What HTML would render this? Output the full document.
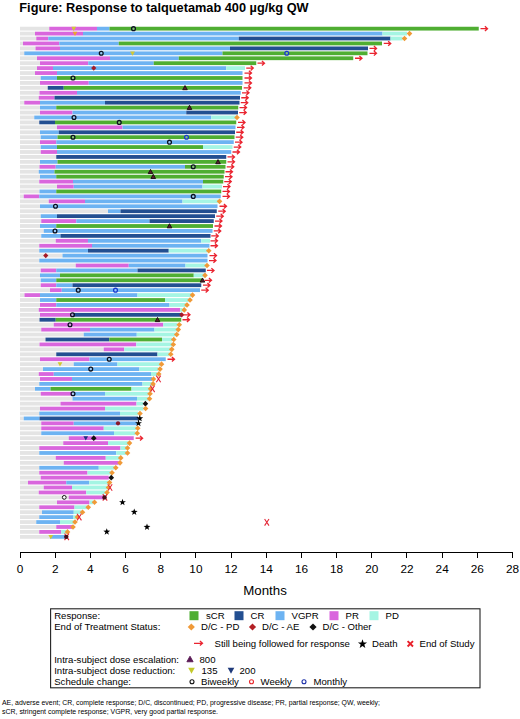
<!DOCTYPE html>
<html><head><meta charset="utf-8"><title>Figure</title>
<style>
html,body{margin:0;padding:0;background:#fff;}
body{width:520px;height:719px;overflow:hidden;font-family:"Liberation Sans",sans-serif;}
svg{display:block}
text{font-family:"Liberation Sans",sans-serif;fill:#000}
</style></head><body>
<svg width="520" height="719" viewBox="0 0 520 719">
<rect width="520" height="719" fill="#fff"/>
<text x="19.3" y="12.2" font-size="12.75" font-weight="bold">Figure: Response to talquetamab 400 µg/kg QW</text>

<g id="bars">
<rect x="20" y="26.75" width="29.25" height="3.8" fill="#e4e4e4"/>
<rect x="49.25" y="26.75" width="47.75" height="3.8" fill="#d966dd"/>
<rect x="97" y="26.75" width="12.5" height="3.8" fill="#6db3f2"/>
<rect x="109.5" y="26.75" width="369.25" height="3.8" fill="#4fae32"/>
<rect x="20" y="31.684" width="15" height="3.8" fill="#e4e4e4"/>
<rect x="35" y="31.684" width="48" height="3.8" fill="#d966dd"/>
<rect x="83" y="31.684" width="299.5" height="3.8" fill="#6db3f2"/>
<rect x="382.5" y="31.684" width="24.5" height="3.8" fill="#a5f5e3"/>
<rect x="20" y="36.618" width="16.25" height="3.8" fill="#e4e4e4"/>
<rect x="36.25" y="36.618" width="12" height="3.8" fill="#d966dd"/>
<rect x="48.25" y="36.618" width="190.5" height="3.8" fill="#6db3f2"/>
<rect x="238.75" y="36.618" width="151.75" height="3.8" fill="#234f91"/>
<rect x="390.5" y="36.618" width="12" height="3.8" fill="#a5f5e3"/>
<rect x="20" y="41.552" width="3" height="3.8" fill="#e4e4e4"/>
<rect x="23" y="41.552" width="36.25" height="3.8" fill="#d966dd"/>
<rect x="59.25" y="41.552" width="59.5" height="3.8" fill="#6db3f2"/>
<rect x="118.75" y="41.552" width="263.25" height="3.8" fill="#4fae32"/>
<rect x="20" y="46.486" width="15.5" height="3.8" fill="#e4e4e4"/>
<rect x="35.5" y="46.486" width="24.5" height="3.8" fill="#d966dd"/>
<rect x="60" y="46.486" width="170" height="3.8" fill="#6db3f2"/>
<rect x="230" y="46.486" width="138" height="3.8" fill="#234f91"/>
<rect x="20" y="51.42" width="4.25" height="3.8" fill="#e4e4e4"/>
<rect x="24.25" y="51.42" width="198.25" height="3.8" fill="#6db3f2"/>
<rect x="222.5" y="51.42" width="145" height="3.8" fill="#4fae32"/>
<rect x="20" y="56.354" width="17" height="3.8" fill="#e4e4e4"/>
<rect x="37" y="56.354" width="73" height="3.8" fill="#d966dd"/>
<rect x="110" y="56.354" width="68.75" height="3.8" fill="#6db3f2"/>
<rect x="178.75" y="56.354" width="174.5" height="3.8" fill="#4fae32"/>
<rect x="20" y="61.288" width="20" height="3.8" fill="#e4e4e4"/>
<rect x="40" y="61.288" width="48.25" height="3.8" fill="#d966dd"/>
<rect x="88.25" y="61.288" width="65.5" height="3.8" fill="#6db3f2"/>
<rect x="153.75" y="61.288" width="102.5" height="3.8" fill="#4fae32"/>
<rect x="20" y="66.222" width="17" height="3.8" fill="#e4e4e4"/>
<rect x="37" y="66.222" width="16" height="3.8" fill="#d966dd"/>
<rect x="53" y="66.222" width="173.25" height="3.8" fill="#6db3f2"/>
<rect x="226.25" y="66.222" width="18.75" height="3.8" fill="#a5f5e3"/>
<rect x="20" y="71.156" width="15" height="3.8" fill="#e4e4e4"/>
<rect x="35" y="71.156" width="22" height="3.8" fill="#d966dd"/>
<rect x="57" y="71.156" width="185.5" height="3.8" fill="#6db3f2"/>
<rect x="20" y="76.09" width="20.75" height="3.8" fill="#e4e4e4"/>
<rect x="40.75" y="76.09" width="16.25" height="3.8" fill="#6db3f2"/>
<rect x="57" y="76.09" width="185.5" height="3.8" fill="#4fae32"/>
<rect x="20" y="81.024" width="20" height="3.8" fill="#e4e4e4"/>
<rect x="40" y="81.024" width="48.75" height="3.8" fill="#d966dd"/>
<rect x="88.75" y="81.024" width="153.75" height="3.8" fill="#6db3f2"/>
<rect x="20" y="85.958" width="27.75" height="3.8" fill="#e4e4e4"/>
<rect x="47.75" y="85.958" width="16" height="3.8" fill="#234f91"/>
<rect x="63.75" y="85.958" width="178.25" height="3.8" fill="#4fae32"/>
<rect x="20" y="90.892" width="19.5" height="3.8" fill="#e4e4e4"/>
<rect x="39.5" y="90.892" width="37.5" height="3.8" fill="#d966dd"/>
<rect x="77" y="90.892" width="163.75" height="3.8" fill="#6db3f2"/>
<rect x="20" y="95.826" width="18.75" height="3.8" fill="#e4e4e4"/>
<rect x="38.75" y="95.826" width="15.75" height="3.8" fill="#d966dd"/>
<rect x="54.5" y="95.826" width="185.5" height="3.8" fill="#234f91"/>
<rect x="20" y="100.76" width="4.25" height="3.8" fill="#e4e4e4"/>
<rect x="24.25" y="100.76" width="15.75" height="3.8" fill="#d966dd"/>
<rect x="40" y="100.76" width="65" height="3.8" fill="#6db3f2"/>
<rect x="105" y="100.76" width="134.5" height="3.8" fill="#234f91"/>
<rect x="20" y="105.694" width="20" height="3.8" fill="#e4e4e4"/>
<rect x="40" y="105.694" width="16.25" height="3.8" fill="#6db3f2"/>
<rect x="56.25" y="105.694" width="182" height="3.8" fill="#4fae32"/>
<rect x="20" y="110.628" width="20" height="3.8" fill="#e4e4e4"/>
<rect x="40" y="110.628" width="32.5" height="3.8" fill="#d966dd"/>
<rect x="72.5" y="110.628" width="113.75" height="3.8" fill="#6db3f2"/>
<rect x="186.25" y="110.628" width="51.75" height="3.8" fill="#234f91"/>
<rect x="20" y="115.562" width="14.25" height="3.8" fill="#e4e4e4"/>
<rect x="34.25" y="115.562" width="177" height="3.8" fill="#6db3f2"/>
<rect x="211.25" y="115.562" width="25" height="3.8" fill="#a5f5e3"/>
<rect x="20" y="120.496" width="19.25" height="3.8" fill="#e4e4e4"/>
<rect x="39.25" y="120.496" width="15.75" height="3.8" fill="#234f91"/>
<rect x="55" y="120.496" width="181.25" height="3.8" fill="#4fae32"/>
<rect x="20" y="125.43" width="37" height="3.8" fill="#e4e4e4"/>
<rect x="57" y="125.43" width="65.5" height="3.8" fill="#d966dd"/>
<rect x="122.5" y="125.43" width="113" height="3.8" fill="#6db3f2"/>
<rect x="20" y="130.364" width="20" height="3.8" fill="#e4e4e4"/>
<rect x="40" y="130.364" width="18.75" height="3.8" fill="#6db3f2"/>
<rect x="58.75" y="130.364" width="176.25" height="3.8" fill="#234f91"/>
<rect x="20" y="135.298" width="20.75" height="3.8" fill="#e4e4e4"/>
<rect x="40.75" y="135.298" width="16.75" height="3.8" fill="#6db3f2"/>
<rect x="57.5" y="135.298" width="177" height="3.8" fill="#4fae32"/>
<rect x="20" y="140.232" width="20" height="3.8" fill="#e4e4e4"/>
<rect x="40" y="140.232" width="16.25" height="3.8" fill="#d966dd"/>
<rect x="56.25" y="140.232" width="177.5" height="3.8" fill="#6db3f2"/>
<rect x="20" y="145.166" width="20.75" height="3.8" fill="#e4e4e4"/>
<rect x="40.75" y="145.166" width="16.25" height="3.8" fill="#6db3f2"/>
<rect x="57" y="145.166" width="146" height="3.8" fill="#4fae32"/>
<rect x="203" y="145.166" width="29.5" height="3.8" fill="#a5f5e3"/>
<rect x="20" y="150.1" width="20.75" height="3.8" fill="#e4e4e4"/>
<rect x="40.75" y="150.1" width="16.25" height="3.8" fill="#d966dd"/>
<rect x="57" y="150.1" width="174.25" height="3.8" fill="#6db3f2"/>
<rect x="20" y="155.034" width="36.25" height="3.8" fill="#e4e4e4"/>
<rect x="56.25" y="155.034" width="170" height="3.8" fill="#234f91"/>
<rect x="20" y="159.968" width="20" height="3.8" fill="#e4e4e4"/>
<rect x="40" y="159.968" width="17.5" height="3.8" fill="#6db3f2"/>
<rect x="57.5" y="159.968" width="168.75" height="3.8" fill="#4fae32"/>
<rect x="20" y="164.902" width="19.5" height="3.8" fill="#e4e4e4"/>
<rect x="39.5" y="164.902" width="16.25" height="3.8" fill="#d966dd"/>
<rect x="55.75" y="164.902" width="129.25" height="3.8" fill="#6db3f2"/>
<rect x="185" y="164.902" width="40.5" height="3.8" fill="#4fae32"/>
<rect x="20" y="169.836" width="18.75" height="3.8" fill="#e4e4e4"/>
<rect x="38.75" y="169.836" width="15.75" height="3.8" fill="#6db3f2"/>
<rect x="54.5" y="169.836" width="170" height="3.8" fill="#4fae32"/>
<rect x="20" y="174.77" width="20" height="3.8" fill="#e4e4e4"/>
<rect x="40" y="174.77" width="16.25" height="3.8" fill="#6db3f2"/>
<rect x="56.25" y="174.77" width="167.5" height="3.8" fill="#4fae32"/>
<rect x="20" y="179.704" width="19.25" height="3.8" fill="#e4e4e4"/>
<rect x="39.25" y="179.704" width="33.75" height="3.8" fill="#d966dd"/>
<rect x="73" y="179.704" width="130" height="3.8" fill="#6db3f2"/>
<rect x="203" y="179.704" width="20.25" height="3.8" fill="#4fae32"/>
<rect x="20" y="184.638" width="37" height="3.8" fill="#e4e4e4"/>
<rect x="57" y="184.638" width="16.75" height="3.8" fill="#d966dd"/>
<rect x="73.75" y="184.638" width="128.75" height="3.8" fill="#6db3f2"/>
<rect x="202.5" y="184.638" width="19.5" height="3.8" fill="#a5f5e3"/>
<rect x="20" y="189.572" width="19.5" height="3.8" fill="#e4e4e4"/>
<rect x="39.5" y="189.572" width="16.75" height="3.8" fill="#6db3f2"/>
<rect x="56.25" y="189.572" width="165" height="3.8" fill="#4fae32"/>
<rect x="20" y="194.506" width="3.75" height="3.8" fill="#e4e4e4"/>
<rect x="23.75" y="194.506" width="15.5" height="3.8" fill="#d966dd"/>
<rect x="39.25" y="194.506" width="181.5" height="3.8" fill="#6db3f2"/>
<rect x="20" y="199.44" width="28.75" height="3.8" fill="#e4e4e4"/>
<rect x="48.75" y="199.44" width="36.25" height="3.8" fill="#d966dd"/>
<rect x="85" y="199.44" width="97.5" height="3.8" fill="#6db3f2"/>
<rect x="182.5" y="199.44" width="35.75" height="3.8" fill="#a5f5e3"/>
<rect x="20" y="204.374" width="20" height="3.8" fill="#e4e4e4"/>
<rect x="40" y="204.374" width="177.5" height="3.8" fill="#6db3f2"/>
<rect x="20" y="209.308" width="88" height="3.8" fill="#e4e4e4"/>
<rect x="108" y="209.308" width="12.5" height="3.8" fill="#6db3f2"/>
<rect x="120.5" y="209.308" width="96.25" height="3.8" fill="#234f91"/>
<rect x="20" y="214.242" width="20.75" height="3.8" fill="#e4e4e4"/>
<rect x="40.75" y="214.242" width="16.25" height="3.8" fill="#6db3f2"/>
<rect x="57" y="214.242" width="158" height="3.8" fill="#234f91"/>
<rect x="20" y="219.176" width="21.25" height="3.8" fill="#e4e4e4"/>
<rect x="41.25" y="219.176" width="35" height="3.8" fill="#d966dd"/>
<rect x="76.25" y="219.176" width="73.25" height="3.8" fill="#6db3f2"/>
<rect x="149.5" y="219.176" width="64.25" height="3.8" fill="#234f91"/>
<rect x="20" y="224.11" width="20" height="3.8" fill="#e4e4e4"/>
<rect x="40" y="224.11" width="16.25" height="3.8" fill="#6db3f2"/>
<rect x="56.25" y="224.11" width="156.75" height="3.8" fill="#4fae32"/>
<rect x="20" y="229.044" width="23.75" height="3.8" fill="#e4e4e4"/>
<rect x="43.75" y="229.044" width="168.75" height="3.8" fill="#6db3f2"/>
<rect x="20" y="233.978" width="21.25" height="3.8" fill="#e4e4e4"/>
<rect x="41.25" y="233.978" width="19.25" height="3.8" fill="#6db3f2"/>
<rect x="60.5" y="233.978" width="150" height="3.8" fill="#234f91"/>
<rect x="20" y="238.912" width="35.75" height="3.8" fill="#e4e4e4"/>
<rect x="55.75" y="238.912" width="32.25" height="3.8" fill="#d966dd"/>
<rect x="88" y="238.912" width="113.25" height="3.8" fill="#6db3f2"/>
<rect x="201.25" y="238.912" width="8.75" height="3.8" fill="#a5f5e3"/>
<rect x="20" y="243.846" width="19.25" height="3.8" fill="#e4e4e4"/>
<rect x="39.25" y="243.846" width="52.75" height="3.8" fill="#d966dd"/>
<rect x="92" y="243.846" width="117.5" height="3.8" fill="#6db3f2"/>
<rect x="20" y="248.78" width="19.25" height="3.8" fill="#e4e4e4"/>
<rect x="39.25" y="248.78" width="48.75" height="3.8" fill="#6db3f2"/>
<rect x="88" y="248.78" width="80.75" height="3.8" fill="#234f91"/>
<rect x="168.75" y="248.78" width="38.75" height="3.8" fill="#a5f5e3"/>
<rect x="20" y="253.714" width="42.5" height="3.8" fill="#e4e4e4"/>
<rect x="62.5" y="253.714" width="145" height="3.8" fill="#6db3f2"/>
<rect x="20" y="258.648" width="19.25" height="3.8" fill="#e4e4e4"/>
<rect x="39.25" y="258.648" width="168.25" height="3.8" fill="#6db3f2"/>
<rect x="20" y="263.582" width="55.75" height="3.8" fill="#e4e4e4"/>
<rect x="75.75" y="263.582" width="53" height="3.8" fill="#d966dd"/>
<rect x="128.75" y="263.582" width="56.75" height="3.8" fill="#6db3f2"/>
<rect x="185.5" y="263.582" width="20.25" height="3.8" fill="#a5f5e3"/>
<rect x="20" y="268.516" width="20.75" height="3.8" fill="#e4e4e4"/>
<rect x="40.75" y="268.516" width="15.5" height="3.8" fill="#d966dd"/>
<rect x="56.25" y="268.516" width="81.25" height="3.8" fill="#6db3f2"/>
<rect x="137.5" y="268.516" width="68.25" height="3.8" fill="#234f91"/>
<rect x="20" y="273.45" width="20" height="3.8" fill="#e4e4e4"/>
<rect x="40" y="273.45" width="20" height="3.8" fill="#6db3f2"/>
<rect x="60" y="273.45" width="133.75" height="3.8" fill="#4fae32"/>
<rect x="193.75" y="273.45" width="10" height="3.8" fill="#a5f5e3"/>
<rect x="20" y="278.384" width="20.75" height="3.8" fill="#e4e4e4"/>
<rect x="40.75" y="278.384" width="15.5" height="3.8" fill="#6db3f2"/>
<rect x="56.25" y="278.384" width="145.75" height="3.8" fill="#4fae32"/>
<rect x="20" y="283.318" width="20.75" height="3.8" fill="#e4e4e4"/>
<rect x="40.75" y="283.318" width="15.5" height="3.8" fill="#d966dd"/>
<rect x="56.25" y="283.318" width="16.25" height="3.8" fill="#6db3f2"/>
<rect x="72.5" y="283.318" width="128.75" height="3.8" fill="#234f91"/>
<rect x="20" y="288.252" width="30" height="3.8" fill="#e4e4e4"/>
<rect x="50" y="288.252" width="11.75" height="3.8" fill="#d966dd"/>
<rect x="61.75" y="288.252" width="138.25" height="3.8" fill="#6db3f2"/>
<rect x="20" y="293.186" width="4.5" height="3.8" fill="#e4e4e4"/>
<rect x="24.5" y="293.186" width="15.5" height="3.8" fill="#d966dd"/>
<rect x="40" y="293.186" width="97.5" height="3.8" fill="#6db3f2"/>
<rect x="137.5" y="293.186" width="53.75" height="3.8" fill="#a5f5e3"/>
<rect x="20" y="298.12" width="20" height="3.8" fill="#e4e4e4"/>
<rect x="40" y="298.12" width="16.25" height="3.8" fill="#6db3f2"/>
<rect x="56.25" y="298.12" width="108.75" height="3.8" fill="#4fae32"/>
<rect x="165" y="298.12" width="23.75" height="3.8" fill="#a5f5e3"/>
<rect x="20" y="303.054" width="20" height="3.8" fill="#e4e4e4"/>
<rect x="40" y="303.054" width="16.25" height="3.8" fill="#d966dd"/>
<rect x="56.25" y="303.054" width="113.25" height="3.8" fill="#6db3f2"/>
<rect x="169.5" y="303.054" width="16.75" height="3.8" fill="#a5f5e3"/>
<rect x="20" y="307.988" width="18.75" height="3.8" fill="#e4e4e4"/>
<rect x="38.75" y="307.988" width="141.25" height="3.8" fill="#d966dd"/>
<rect x="180" y="307.988" width="2.5" height="3.8" fill="#a5f5e3"/>
<rect x="20" y="312.922" width="20" height="3.8" fill="#e4e4e4"/>
<rect x="40" y="312.922" width="32.5" height="3.8" fill="#d966dd"/>
<rect x="72.5" y="312.922" width="108.75" height="3.8" fill="#234f91"/>
<rect x="20" y="317.856" width="19.5" height="3.8" fill="#e4e4e4"/>
<rect x="39.5" y="317.856" width="16.25" height="3.8" fill="#234f91"/>
<rect x="55.75" y="317.856" width="125.5" height="3.8" fill="#4fae32"/>
<rect x="20" y="322.79" width="33.75" height="3.8" fill="#e4e4e4"/>
<rect x="53.75" y="322.79" width="109.5" height="3.8" fill="#d966dd"/>
<rect x="163.25" y="322.79" width="14.25" height="3.8" fill="#a5f5e3"/>
<rect x="20" y="327.724" width="21.25" height="3.8" fill="#e4e4e4"/>
<rect x="41.25" y="327.724" width="48.75" height="3.8" fill="#d966dd"/>
<rect x="90" y="327.724" width="64.5" height="3.8" fill="#6db3f2"/>
<rect x="154.5" y="327.724" width="22.5" height="3.8" fill="#a5f5e3"/>
<rect x="20" y="332.658" width="63.75" height="3.8" fill="#e4e4e4"/>
<rect x="83.75" y="332.658" width="53" height="3.8" fill="#6db3f2"/>
<rect x="136.75" y="332.658" width="38.75" height="3.8" fill="#a5f5e3"/>
<rect x="20" y="337.592" width="25.5" height="3.8" fill="#e4e4e4"/>
<rect x="45.5" y="337.592" width="63.75" height="3.8" fill="#234f91"/>
<rect x="109.25" y="337.592" width="52.75" height="3.8" fill="#4fae32"/>
<rect x="162" y="337.592" width="10" height="3.8" fill="#a5f5e3"/>
<rect x="20" y="342.526" width="19.5" height="3.8" fill="#e4e4e4"/>
<rect x="39.5" y="342.526" width="96.75" height="3.8" fill="#d966dd"/>
<rect x="136.25" y="342.526" width="35.75" height="3.8" fill="#a5f5e3"/>
<rect x="20" y="347.46" width="83.75" height="3.8" fill="#e4e4e4"/>
<rect x="103.75" y="347.46" width="20.5" height="3.8" fill="#d966dd"/>
<rect x="124.25" y="347.46" width="45.75" height="3.8" fill="#a5f5e3"/>
<rect x="20" y="352.394" width="36.25" height="3.8" fill="#e4e4e4"/>
<rect x="56.25" y="352.394" width="101.25" height="3.8" fill="#234f91"/>
<rect x="157.5" y="352.394" width="11.75" height="3.8" fill="#a5f5e3"/>
<rect x="20" y="357.328" width="20" height="3.8" fill="#e4e4e4"/>
<rect x="40" y="357.328" width="49.5" height="3.8" fill="#d966dd"/>
<rect x="89.5" y="357.328" width="76.25" height="3.8" fill="#6db3f2"/>
<rect x="20" y="362.262" width="53.75" height="3.8" fill="#e4e4e4"/>
<rect x="73.75" y="362.262" width="43.75" height="3.8" fill="#6db3f2"/>
<rect x="117.5" y="362.262" width="42.5" height="3.8" fill="#a5f5e3"/>
<rect x="20" y="367.196" width="23" height="3.8" fill="#e4e4e4"/>
<rect x="43" y="367.196" width="96.4" height="3.8" fill="#6db3f2"/>
<rect x="139.4" y="367.196" width="18.6" height="3.8" fill="#a5f5e3"/>
<rect x="20" y="372.13" width="18.75" height="3.8" fill="#e4e4e4"/>
<rect x="38.75" y="372.13" width="15" height="3.8" fill="#d966dd"/>
<rect x="53.75" y="372.13" width="97.25" height="3.8" fill="#6db3f2"/>
<rect x="151" y="372.13" width="6" height="3.8" fill="#a5f5e3"/>
<rect x="20" y="377.064" width="20" height="3.8" fill="#e4e4e4"/>
<rect x="40" y="377.064" width="32" height="3.8" fill="#d966dd"/>
<rect x="72" y="377.064" width="80" height="3.8" fill="#6db3f2"/>
<rect x="20" y="381.998" width="19.25" height="3.8" fill="#e4e4e4"/>
<rect x="39.25" y="381.998" width="103.25" height="3.8" fill="#6db3f2"/>
<rect x="142.5" y="381.998" width="9.5" height="3.8" fill="#a5f5e3"/>
<rect x="20" y="386.932" width="15" height="3.8" fill="#e4e4e4"/>
<rect x="35" y="386.932" width="15.5" height="3.8" fill="#6db3f2"/>
<rect x="50.5" y="386.932" width="81" height="3.8" fill="#4fae32"/>
<rect x="131.5" y="386.932" width="18.5" height="3.8" fill="#a5f5e3"/>
<rect x="20" y="391.866" width="20.75" height="3.8" fill="#e4e4e4"/>
<rect x="40.75" y="391.866" width="31.75" height="3.8" fill="#d966dd"/>
<rect x="72.5" y="391.866" width="32.5" height="3.8" fill="#6db3f2"/>
<rect x="105" y="391.866" width="43.5" height="3.8" fill="#a5f5e3"/>
<rect x="20" y="396.8" width="52.5" height="3.8" fill="#e4e4e4"/>
<rect x="72.5" y="396.8" width="64.5" height="3.8" fill="#6db3f2"/>
<rect x="137" y="396.8" width="11" height="3.8" fill="#a5f5e3"/>
<rect x="20" y="401.734" width="40.5" height="3.8" fill="#e4e4e4"/>
<rect x="60.5" y="401.734" width="76" height="3.8" fill="#d966dd"/>
<rect x="136.5" y="401.734" width="6.5" height="3.8" fill="#a5f5e3"/>
<rect x="20" y="406.668" width="20" height="3.8" fill="#e4e4e4"/>
<rect x="40" y="406.668" width="65" height="3.8" fill="#d966dd"/>
<rect x="105" y="406.668" width="38.5" height="3.8" fill="#a5f5e3"/>
<rect x="20" y="411.602" width="19.25" height="3.8" fill="#e4e4e4"/>
<rect x="39.25" y="411.602" width="80.75" height="3.8" fill="#6db3f2"/>
<rect x="120" y="411.602" width="18" height="3.8" fill="#a5f5e3"/>
<rect x="20" y="416.536" width="3.75" height="3.8" fill="#e4e4e4"/>
<rect x="23.75" y="416.536" width="15.75" height="3.8" fill="#6db3f2"/>
<rect x="39.5" y="416.536" width="98.5" height="3.8" fill="#234f91"/>
<rect x="20" y="421.47" width="21.25" height="3.8" fill="#e4e4e4"/>
<rect x="41.25" y="421.47" width="32.5" height="3.8" fill="#d966dd"/>
<rect x="73.75" y="421.47" width="63.25" height="3.8" fill="#6db3f2"/>
<rect x="20" y="426.404" width="21.25" height="3.8" fill="#e4e4e4"/>
<rect x="41.25" y="426.404" width="62.5" height="3.8" fill="#d966dd"/>
<rect x="103.75" y="426.404" width="32.25" height="3.8" fill="#a5f5e3"/>
<rect x="20" y="431.338" width="21.25" height="3.8" fill="#e4e4e4"/>
<rect x="41.25" y="431.338" width="72.75" height="3.8" fill="#6db3f2"/>
<rect x="114" y="431.338" width="21.5" height="3.8" fill="#a5f5e3"/>
<rect x="20" y="436.272" width="48.75" height="3.8" fill="#e4e4e4"/>
<rect x="68.75" y="436.272" width="65" height="3.8" fill="#d966dd"/>
<rect x="20" y="441.206" width="43.25" height="3.8" fill="#e4e4e4"/>
<rect x="63.25" y="441.206" width="44.75" height="3.8" fill="#d966dd"/>
<rect x="108" y="441.206" width="20.25" height="3.8" fill="#a5f5e3"/>
<rect x="20" y="446.14" width="19.25" height="3.8" fill="#e4e4e4"/>
<rect x="39.25" y="446.14" width="81.25" height="3.8" fill="#d966dd"/>
<rect x="120.5" y="446.14" width="5.75" height="3.8" fill="#a5f5e3"/>
<rect x="20" y="451.074" width="19.25" height="3.8" fill="#e4e4e4"/>
<rect x="39.25" y="451.074" width="77" height="3.8" fill="#6db3f2"/>
<rect x="116.25" y="451.074" width="10" height="3.8" fill="#a5f5e3"/>
<rect x="20" y="456.008" width="35.75" height="3.8" fill="#e4e4e4"/>
<rect x="55.75" y="456.008" width="50" height="3.8" fill="#d966dd"/>
<rect x="105.75" y="456.008" width="13.75" height="3.8" fill="#a5f5e3"/>
<rect x="20" y="460.942" width="43.75" height="3.8" fill="#e4e4e4"/>
<rect x="63.75" y="460.942" width="55" height="3.8" fill="#d966dd"/>
<rect x="20" y="465.876" width="19.25" height="3.8" fill="#e4e4e4"/>
<rect x="39.25" y="465.876" width="59.5" height="3.8" fill="#6db3f2"/>
<rect x="98.75" y="465.876" width="15.5" height="3.8" fill="#a5f5e3"/>
<rect x="20" y="470.81" width="19.25" height="3.8" fill="#e4e4e4"/>
<rect x="39.25" y="470.81" width="48.25" height="3.8" fill="#d966dd"/>
<rect x="87.5" y="470.81" width="23.25" height="3.8" fill="#a5f5e3"/>
<rect x="20" y="475.744" width="20.75" height="3.8" fill="#e4e4e4"/>
<rect x="40.75" y="475.744" width="68" height="3.8" fill="#d966dd"/>
<rect x="20" y="480.678" width="8" height="3.8" fill="#e4e4e4"/>
<rect x="28" y="480.678" width="38.25" height="3.8" fill="#d966dd"/>
<rect x="66.25" y="480.678" width="23" height="3.8" fill="#6db3f2"/>
<rect x="89.25" y="480.678" width="18.75" height="3.8" fill="#a5f5e3"/>
<rect x="20" y="485.612" width="23.75" height="3.8" fill="#e4e4e4"/>
<rect x="43.75" y="485.612" width="28.25" height="3.8" fill="#d966dd"/>
<rect x="72" y="485.612" width="35.5" height="3.8" fill="#a5f5e3"/>
<rect x="20" y="490.546" width="18.75" height="3.8" fill="#e4e4e4"/>
<rect x="38.75" y="490.546" width="47.5" height="3.8" fill="#d966dd"/>
<rect x="86.25" y="490.546" width="19.25" height="3.8" fill="#a5f5e3"/>
<rect x="20" y="495.48" width="48.75" height="3.8" fill="#e4e4e4"/>
<rect x="68.75" y="495.48" width="34.25" height="3.8" fill="#d966dd"/>
<rect x="20" y="500.414" width="37" height="3.8" fill="#e4e4e4"/>
<rect x="57" y="500.414" width="32.5" height="3.8" fill="#d966dd"/>
<rect x="89.5" y="500.414" width="3.75" height="3.8" fill="#a5f5e3"/>
<rect x="20" y="505.348" width="19.25" height="3.8" fill="#e4e4e4"/>
<rect x="39.25" y="505.348" width="35.25" height="3.8" fill="#d966dd"/>
<rect x="74.5" y="505.348" width="12.5" height="3.8" fill="#a5f5e3"/>
<rect x="20" y="510.282" width="22" height="3.8" fill="#e4e4e4"/>
<rect x="42" y="510.282" width="31.75" height="3.8" fill="#6db3f2"/>
<rect x="73.75" y="510.282" width="7.5" height="3.8" fill="#a5f5e3"/>
<rect x="20" y="515.216" width="19.25" height="3.8" fill="#e4e4e4"/>
<rect x="39.25" y="515.216" width="33.75" height="3.8" fill="#6db3f2"/>
<rect x="73" y="515.216" width="4.5" height="3.8" fill="#a5f5e3"/>
<rect x="20" y="520.15" width="16.25" height="3.8" fill="#e4e4e4"/>
<rect x="36.25" y="520.15" width="23.75" height="3.8" fill="#6db3f2"/>
<rect x="60" y="520.15" width="13.75" height="3.8" fill="#a5f5e3"/>
<rect x="20" y="525.084" width="36.25" height="3.8" fill="#e4e4e4"/>
<rect x="56.25" y="525.084" width="15.75" height="3.8" fill="#d966dd"/>
<rect x="20" y="530.018" width="19.25" height="3.8" fill="#e4e4e4"/>
<rect x="39.25" y="530.018" width="22" height="3.8" fill="#d966dd"/>
<rect x="61.25" y="530.018" width="5" height="3.8" fill="#a5f5e3"/>
<rect x="20" y="534.952" width="30" height="3.8" fill="#e4e4e4"/>
<rect x="50" y="534.952" width="15" height="3.8" fill="#6db3f2"/>
</g>
<g id="marks">
<path d="M73.75 31.05L76.15 26.73L71.35 26.73Z" fill="#d2c834"/>
<circle cx="133.5" cy="28.65" r="1.9" fill="#fff" fill-opacity="0.3" stroke="#0a1020" stroke-width="1.3"/>
<path d="M480.5 28.65H487.5M484.9 26.35L487.5 28.65L484.9 30.95" stroke="#ea2430" stroke-width="1.3" fill="none"/>
<path d="M75 35.984L77.4 31.664L72.6 31.664Z" fill="#eaa530"/>
<path d="M409.5 30.784L412.3 33.584L409.5 36.384L406.7 33.584Z" fill="#f09a38"/>
<path d="M404.5 35.718L407.3 38.518L404.5 41.318L401.7 38.518Z" fill="#f09a38"/>
<path d="M383.75 43.452H390.75M388.15 41.152L390.75 43.452L388.15 45.752" stroke="#ea2430" stroke-width="1.3" fill="none"/>
<path d="M369.5 48.386H376.5M373.9 46.086L376.5 48.386L373.9 50.686" stroke="#ea2430" stroke-width="1.3" fill="none"/>
<circle cx="101.25" cy="53.32" r="1.9" fill="#fff" fill-opacity="0.3" stroke="#0a1020" stroke-width="1.3"/>
<path d="M132.5 55.72L134.9 51.4L130.1 51.4Z" fill="#d2c834"/>
<circle cx="286.75" cy="53.32" r="1.9" fill="#fff" fill-opacity="0.3" stroke="#1838d0" stroke-width="1.3"/>
<path d="M369.5 53.32H376.5M373.9 51.02L376.5 53.32L373.9 55.62" stroke="#ea2430" stroke-width="1.3" fill="none"/>
<path d="M355 58.254H362M359.4 55.954L362 58.254L359.4 60.554" stroke="#ea2430" stroke-width="1.3" fill="none"/>
<path d="M257.5 63.188H264.5M261.9 60.888L264.5 63.188L261.9 65.488" stroke="#ea2430" stroke-width="1.3" fill="none"/>
<path d="M93.75 65.522L96.35 68.122L93.75 70.722L91.15 68.122Z" fill="#a51a28"/>
<path d="M246.25 68.122H253.25M250.65 65.822L253.25 68.122L250.65 70.422" stroke="#ea2430" stroke-width="1.3" fill="none"/>
<path d="M244.5 73.056H251.5M248.9 70.756L251.5 73.056L248.9 75.356" stroke="#ea2430" stroke-width="1.3" fill="none"/>
<circle cx="73" cy="77.99" r="1.9" fill="#fff" fill-opacity="0.3" stroke="#0a1020" stroke-width="1.3"/>
<path d="M244.5 77.99H251.5M248.9 75.69L251.5 77.99L248.9 80.29" stroke="#ea2430" stroke-width="1.3" fill="none"/>
<path d="M244.5 82.924H251.5M248.9 80.624L251.5 82.924L248.9 85.224" stroke="#ea2430" stroke-width="1.3" fill="none"/>
<path d="M185 85.558L187.3 89.698L182.7 89.698Z" fill="#55202a" stroke="#1a0a12" stroke-width="0.9" stroke-linejoin="round"/>
<path d="M243.75 87.858H250.75M248.15 85.558L250.75 87.858L248.15 90.158" stroke="#ea2430" stroke-width="1.3" fill="none"/>
<path d="M242 92.792H249M246.4 90.492L249 92.792L246.4 95.092" stroke="#ea2430" stroke-width="1.3" fill="none"/>
<path d="M241.25 97.726H248.25M245.65 95.426L248.25 97.726L245.65 100.026" stroke="#ea2430" stroke-width="1.3" fill="none"/>
<path d="M240.75 102.66H247.75M245.15 100.36L247.75 102.66L245.15 104.96" stroke="#ea2430" stroke-width="1.3" fill="none"/>
<path d="M189.5 105.294L191.8 109.434L187.2 109.434Z" fill="#55202a" stroke="#1a0a12" stroke-width="0.9" stroke-linejoin="round"/>
<path d="M239.5 107.594H246.5M243.9 105.294L246.5 107.594L243.9 109.894" stroke="#ea2430" stroke-width="1.3" fill="none"/>
<path d="M239.25 112.528H246.25M243.65 110.228L246.25 112.528L243.65 114.828" stroke="#ea2430" stroke-width="1.3" fill="none"/>
<circle cx="74" cy="117.462" r="1.9" fill="#fff" fill-opacity="0.3" stroke="#0a1020" stroke-width="1.3"/>
<path d="M237 114.662L239.8 117.462L237 120.262L234.2 117.462Z" fill="#f09a38"/>
<circle cx="119.25" cy="122.396" r="1.9" fill="#fff" fill-opacity="0.3" stroke="#0a1020" stroke-width="1.3"/>
<path d="M238 122.396H245M242.4 120.096L245 122.396L242.4 124.696" stroke="#ea2430" stroke-width="1.3" fill="none"/>
<path d="M237 127.33H244M241.4 125.03L244 127.33L241.4 129.63" stroke="#ea2430" stroke-width="1.3" fill="none"/>
<path d="M236.25 132.264H243.25M240.65 129.964L243.25 132.264L240.65 134.564" stroke="#ea2430" stroke-width="1.3" fill="none"/>
<circle cx="73" cy="137.198" r="1.9" fill="#fff" fill-opacity="0.3" stroke="#0a1020" stroke-width="1.3"/>
<circle cx="186.5" cy="137.198" r="1.9" fill="#fff" fill-opacity="0.3" stroke="#1838d0" stroke-width="1.3"/>
<path d="M235.75 137.198H242.75M240.15 134.898L242.75 137.198L240.15 139.498" stroke="#ea2430" stroke-width="1.3" fill="none"/>
<circle cx="169.5" cy="142.132" r="1.9" fill="#fff" fill-opacity="0.3" stroke="#0a1020" stroke-width="1.3"/>
<path d="M235 142.132H242M239.4 139.832L242 142.132L239.4 144.432" stroke="#ea2430" stroke-width="1.3" fill="none"/>
<path d="M233.75 147.066H240.75M238.15 144.766L240.75 147.066L238.15 149.366" stroke="#ea2430" stroke-width="1.3" fill="none"/>
<path d="M232.5 152H239.5M236.9 149.7L239.5 152L236.9 154.3" stroke="#ea2430" stroke-width="1.3" fill="none"/>
<path d="M227.5 156.934H234.5M231.9 154.634L234.5 156.934L231.9 159.234" stroke="#ea2430" stroke-width="1.3" fill="none"/>
<path d="M218 159.568L220.3 163.708L215.7 163.708Z" fill="#55202a" stroke="#1a0a12" stroke-width="0.9" stroke-linejoin="round"/>
<path d="M227.5 161.868H234.5M231.9 159.568L234.5 161.868L231.9 164.168" stroke="#ea2430" stroke-width="1.3" fill="none"/>
<circle cx="193.25" cy="166.802" r="1.9" fill="#fff" fill-opacity="0.3" stroke="#0a1020" stroke-width="1.3"/>
<path d="M226.75 166.802H233.75M231.15 164.502L233.75 166.802L231.15 169.102" stroke="#ea2430" stroke-width="1.3" fill="none"/>
<path d="M150.5 169.436L152.8 173.576L148.2 173.576Z" fill="#55202a" stroke="#1a0a12" stroke-width="0.9" stroke-linejoin="round"/>
<path d="M225.5 171.736H232.5M229.9 169.436L232.5 171.736L229.9 174.036" stroke="#ea2430" stroke-width="1.3" fill="none"/>
<path d="M153.25 174.37L155.55 178.51L150.95 178.51Z" fill="#55202a" stroke="#1a0a12" stroke-width="0.9" stroke-linejoin="round"/>
<path d="M225 176.67H232M229.4 174.37L232 176.67L229.4 178.97" stroke="#ea2430" stroke-width="1.3" fill="none"/>
<path d="M224.25 181.604H231.25M228.65 179.304L231.25 181.604L228.65 183.904" stroke="#ea2430" stroke-width="1.3" fill="none"/>
<path d="M223 186.538H230M227.4 184.238L230 186.538L227.4 188.838" stroke="#ea2430" stroke-width="1.3" fill="none"/>
<path d="M222.5 191.472H229.5M226.9 189.172L229.5 191.472L226.9 193.772" stroke="#ea2430" stroke-width="1.3" fill="none"/>
<circle cx="193.25" cy="196.406" r="1.9" fill="#fff" fill-opacity="0.3" stroke="#0a1020" stroke-width="1.3"/>
<path d="M222.5 196.406H229.5M226.9 194.106L229.5 196.406L226.9 198.706" stroke="#ea2430" stroke-width="1.3" fill="none"/>
<path d="M219.5 198.54L222.3 201.34L219.5 204.14L216.7 201.34Z" fill="#f09a38"/>
<circle cx="55.5" cy="206.274" r="1.9" fill="#fff" fill-opacity="0.3" stroke="#0a1020" stroke-width="1.3"/>
<path d="M219.5 206.274H226.5M223.9 203.974L226.5 206.274L223.9 208.574" stroke="#ea2430" stroke-width="1.3" fill="none"/>
<path d="M218.25 211.208H225.25M222.65 208.908L225.25 211.208L222.65 213.508" stroke="#ea2430" stroke-width="1.3" fill="none"/>
<path d="M216.25 216.142H223.25M220.65 213.842L223.25 216.142L220.65 218.442" stroke="#ea2430" stroke-width="1.3" fill="none"/>
<path d="M215 221.076H222M219.4 218.776L222 221.076L219.4 223.376" stroke="#ea2430" stroke-width="1.3" fill="none"/>
<path d="M169.5 223.71L171.8 227.85L167.2 227.85Z" fill="#55202a" stroke="#1a0a12" stroke-width="0.9" stroke-linejoin="round"/>
<path d="M214.5 226.01H221.5M218.9 223.71L221.5 226.01L218.9 228.31" stroke="#ea2430" stroke-width="1.3" fill="none"/>
<circle cx="55" cy="230.944" r="1.9" fill="#fff" fill-opacity="0.3" stroke="#0a1020" stroke-width="1.3"/>
<path d="M213.75 230.944H220.75M218.15 228.644L220.75 230.944L218.15 233.244" stroke="#ea2430" stroke-width="1.3" fill="none"/>
<path d="M211.25 235.878H218.25M215.65 233.578L218.25 235.878L215.65 238.178" stroke="#ea2430" stroke-width="1.3" fill="none"/>
<path d="M210.5 240.812H217.5M214.9 238.512L217.5 240.812L214.9 243.112" stroke="#ea2430" stroke-width="1.3" fill="none"/>
<path d="M210.5 245.746H217.5M214.9 243.446L217.5 245.746L214.9 248.046" stroke="#ea2430" stroke-width="1.3" fill="none"/>
<path d="M208.75 247.88L211.55 250.68L208.75 253.48L205.95 250.68Z" fill="#f09a38"/>
<path d="M45.75 253.014L48.35 255.614L45.75 258.214L43.15 255.614Z" fill="#a51a28"/>
<path d="M209.5 255.614H216.5M213.9 253.314L216.5 255.614L213.9 257.914" stroke="#ea2430" stroke-width="1.3" fill="none"/>
<path d="M209 260.548H216M213.4 258.248L216 260.548L213.4 262.848" stroke="#ea2430" stroke-width="1.3" fill="none"/>
<path d="M207 262.682L209.8 265.482L207 268.282L204.2 265.482Z" fill="#f09a38"/>
<path d="M207 270.416H214M211.4 268.116L214 270.416L211.4 272.716" stroke="#ea2430" stroke-width="1.3" fill="none"/>
<path d="M205 272.55L207.8 275.35L205 278.15L202.2 275.35Z" fill="#f09a38"/>
<path d="M202.5 277.984L204.8 282.124L200.2 282.124Z" fill="#55202a" stroke="#1a0a12" stroke-width="0.9" stroke-linejoin="round"/>
<path d="M204.5 280.284H211.5M208.9 277.984L211.5 280.284L208.9 282.584" stroke="#ea2430" stroke-width="1.3" fill="none"/>
<path d="M203 285.218H210M207.4 282.918L210 285.218L207.4 287.518" stroke="#ea2430" stroke-width="1.3" fill="none"/>
<circle cx="78.25" cy="290.152" r="1.9" fill="#fff" fill-opacity="0.3" stroke="#0a1020" stroke-width="1.3"/>
<circle cx="115.5" cy="290.152" r="1.9" fill="#fff" fill-opacity="0.3" stroke="#1838d0" stroke-width="1.3"/>
<path d="M201.25 290.152H208.25M205.65 287.852L208.25 290.152L205.65 292.452" stroke="#ea2430" stroke-width="1.3" fill="none"/>
<path d="M192.5 292.286L195.3 295.086L192.5 297.886L189.7 295.086Z" fill="#f09a38"/>
<path d="M190 297.22L192.8 300.02L190 302.82L187.2 300.02Z" fill="#f09a38"/>
<path d="M187 302.154L189.8 304.954L187 307.754L184.2 304.954Z" fill="#f09a38"/>
<path d="M184.25 307.088L187.05 309.888L184.25 312.688L181.45 309.888Z" fill="#f09a38"/>
<circle cx="72.5" cy="314.822" r="1.9" fill="#fff" fill-opacity="0.3" stroke="#0a1020" stroke-width="1.3"/>
<path d="M181.75 312.222L184.35 314.822L181.75 317.422L179.15 314.822Z" fill="#a51a28"/>
<path d="M183 314.822H190M187.4 312.522L190 314.822L187.4 317.122" stroke="#ea2430" stroke-width="1.3" fill="none"/>
<path d="M157.5 317.456L159.8 321.596L155.2 321.596Z" fill="#55202a" stroke="#1a0a12" stroke-width="0.9" stroke-linejoin="round"/>
<path d="M182.5 319.756H189.5M186.9 317.456L189.5 319.756L186.9 322.056" stroke="#ea2430" stroke-width="1.3" fill="none"/>
<circle cx="70" cy="324.69" r="1.9" fill="#fff" fill-opacity="0.3" stroke="#0a1020" stroke-width="1.3"/>
<path d="M179.25 321.89L182.05 324.69L179.25 327.49L176.45 324.69Z" fill="#f09a38"/>
<path d="M178.25 326.824L181.05 329.624L178.25 332.424L175.45 329.624Z" fill="#f09a38"/>
<path d="M176.75 331.758L179.55 334.558L176.75 337.358L173.95 334.558Z" fill="#f09a38"/>
<path d="M173.75 336.692L176.55 339.492L173.75 342.292L170.95 339.492Z" fill="#f09a38"/>
<path d="M173.25 341.626L176.05 344.426L173.25 347.226L170.45 344.426Z" fill="#f09a38"/>
<path d="M171.75 346.56L174.55 349.36L171.75 352.16L168.95 349.36Z" fill="#f09a38"/>
<path d="M170.75 351.494L173.55 354.294L170.75 357.094L167.95 354.294Z" fill="#f09a38"/>
<circle cx="109.25" cy="359.228" r="1.9" fill="#fff" fill-opacity="0.3" stroke="#0a1020" stroke-width="1.3"/>
<path d="M167.5 359.228H174.5M171.9 356.928L174.5 359.228L171.9 361.528" stroke="#ea2430" stroke-width="1.3" fill="none"/>
<path d="M60 366.562L62.4 362.242L57.6 362.242Z" fill="#d2c834"/>
<path d="M161.5 361.362L164.3 364.162L161.5 366.962L158.7 364.162Z" fill="#f09a38"/>
<circle cx="90.75" cy="369.096" r="1.9" fill="#fff" fill-opacity="0.3" stroke="#0a1020" stroke-width="1.3"/>
<path d="M160 366.296L162.8 369.096L160 371.896L157.2 369.096Z" fill="#f09a38"/>
<path d="M158.75 371.23L161.55 374.03L158.75 376.83L155.95 374.03Z" fill="#f09a38"/>
<path d="M153.5 376.164L156.3 378.964L153.5 381.764L150.7 378.964Z" fill="#f09a38"/>
<path d="M156.3 375.664L160.7 382.264M156.3 382.264L160.7 375.664" stroke="#e42838" stroke-width="1.1" fill="none"/>
<path d="M153 381.098L155.8 383.898L153 386.698L150.2 383.898Z" fill="#f09a38"/>
<path d="M150.6 386.032L153.4 388.832L150.6 391.632L147.8 388.832Z" fill="#f09a38"/>
<path d="M150.3 385.532L154.7 392.132M150.3 392.132L154.7 385.532" stroke="#e42838" stroke-width="1.1" fill="none"/>
<circle cx="73" cy="393.766" r="1.9" fill="#fff" fill-opacity="0.3" stroke="#0a1020" stroke-width="1.3"/>
<path d="M150 390.966L152.8 393.766L150 396.566L147.2 393.766Z" fill="#f09a38"/>
<path d="M149.5 395.9L152.3 398.7L149.5 401.5L146.7 398.7Z" fill="#f09a38"/>
<path d="M145.4 400.834L148.2 403.634L145.4 406.434L142.6 403.634Z" fill="#111"/>
<path d="M145.6 405.768L148.4 408.568L145.6 411.368L142.8 408.568Z" fill="#f09a38"/>
<path d="M140 410.702L142.8 413.502L140 416.302L137.2 413.502Z" fill="#f09a38"/>
<path d="M139.75 414.84L140.60 417.27L143.17 417.32L141.12 418.88L141.87 421.35L139.75 419.88L137.63 421.35L138.38 418.88L136.33 417.32L138.90 417.27Z" fill="#000"/>
<circle cx="118" cy="423.37" r="2.1" fill="#8a1828"/>
<path d="M138.50 419.77L139.35 422.21L141.92 422.26L139.87 423.81L140.62 426.28L138.50 424.81L136.38 426.28L137.13 423.81L135.08 422.26L137.65 422.21Z" fill="#000"/>
<path d="M137.75 425.504L140.55 428.304L137.75 431.104L134.95 428.304Z" fill="#f09a38"/>
<path d="M137.25 430.438L140.05 433.238L137.25 436.038L134.45 433.238Z" fill="#f09a38"/>
<path d="M85.75 440.472L88.05 436.332L83.45 436.332Z" fill="#1f2f80"/>
<path d="M93.75 435.372L96.55 438.172L93.75 440.972L90.95 438.172Z" fill="#111"/>
<path d="M135.6 438.172H142.6M140 435.872L142.6 438.172L140 440.472" stroke="#ea2430" stroke-width="1.3" fill="none"/>
<path d="M129.5 440.306L132.3 443.106L129.5 445.906L126.7 443.106Z" fill="#f09a38"/>
<path d="M127.5 445.24L130.3 448.04L127.5 450.84L124.7 448.04Z" fill="#f09a38"/>
<path d="M127.5 450.174L130.3 452.974L127.5 455.774L124.7 452.974Z" fill="#f09a38"/>
<path d="M120.75 455.108L123.55 457.908L120.75 460.708L117.95 457.908Z" fill="#f09a38"/>
<path d="M120 460.042L122.8 462.842L120 465.642L117.2 462.842Z" fill="#f09a38"/>
<path d="M115.75 464.976L118.55 467.776L115.75 470.576L112.95 467.776Z" fill="#f09a38"/>
<path d="M112 469.91L114.8 472.71L112 475.51L109.2 472.71Z" fill="#f09a38"/>
<path d="M111.25 474.844L114.05 477.644L111.25 480.444L108.45 477.644Z" fill="#111"/>
<path d="M109.5 479.778L112.3 482.578L109.5 485.378L106.7 482.578Z" fill="#f09a38"/>
<path d="M108.5 484.712L111.3 487.512L108.5 490.312L105.7 487.512Z" fill="#f09a38"/>
<path d="M107.8 484.212L112.2 490.812M107.8 490.812L112.2 484.212" stroke="#e42838" stroke-width="1.1" fill="none"/>
<path d="M107 489.646L109.8 492.446L107 495.246L104.2 492.446Z" fill="#f09a38"/>
<circle cx="64.25" cy="497.38" r="1.9" fill="#fff" stroke="#111" stroke-width="1"/>
<path d="M102.8 494.08L107.2 500.68M102.8 500.68L107.2 494.08" stroke="#e42838" stroke-width="1.1" fill="none"/>
<circle cx="104.5" cy="497.38" r="2.2" fill="#4a0c1a"/>
<path d="M94.5 499.514L97.3 502.314L94.5 505.114L91.7 502.314Z" fill="#f09a38"/>
<path d="M122.50 498.70L123.35 501.14L125.92 501.19L123.87 502.74L124.62 505.21L122.50 503.74L120.38 505.21L121.13 502.74L119.08 501.19L121.65 501.14Z" fill="#000"/>
<path d="M88.25 504.448L91.05 507.248L88.25 510.048L85.45 507.248Z" fill="#f09a38"/>
<path d="M82.5 509.382L85.3 512.182L82.5 514.982L79.7 512.182Z" fill="#f09a38"/>
<path d="M134.25 508.40L135.10 510.84L137.67 510.89L135.62 512.44L136.37 514.91L134.25 513.44L132.13 514.91L132.88 512.44L130.83 510.89L133.40 510.84Z" fill="#000"/>
<path d="M77.5 514.316L80.3 517.116L77.5 519.916L74.7 517.116Z" fill="#f09a38"/>
<path d="M77.05 513.816L81.45 520.416M77.05 520.416L81.45 513.816" stroke="#e42838" stroke-width="1.1" fill="none"/>
<path d="M75 519.25L77.8 522.05L75 524.85L72.2 522.05Z" fill="#f09a38"/>
<path d="M264.6 519L269 525.6M264.6 525.6L269 519" stroke="#e42838" stroke-width="1.1" fill="none"/>
<path d="M73 524.184L75.8 526.984L73 529.784L70.2 526.984Z" fill="#f09a38"/>
<path d="M147.00 523.40L147.85 525.84L150.42 525.89L148.37 527.44L149.12 529.91L147.00 528.44L144.88 529.91L145.63 527.44L143.58 525.89L146.15 525.84Z" fill="#000"/>
<path d="M67.5 529.118L70.3 531.918L67.5 534.718L64.7 531.918Z" fill="#f09a38"/>
<path d="M106.75 528.15L107.60 530.59L110.17 530.64L108.12 532.19L108.87 534.66L106.75 533.19L104.63 534.66L105.38 532.19L103.33 530.64L105.90 530.59Z" fill="#000"/>
<path d="M50.75 539.252L53.15 534.932L48.35 534.932Z" fill="#d2c834"/>
<path d="M64.55 533.552L68.95 540.152M64.55 540.152L68.95 533.552" stroke="#e42838" stroke-width="1.1" fill="none"/>
<circle cx="66.25" cy="536.852" r="2.2" fill="#4a0c1a"/>
</g>
<g stroke="#000" stroke-width="1" shape-rendering="crispEdges">
<line x1="19.5" y1="552.5" x2="513" y2="552.5"/>
<line x1="20" y1="552.5" x2="20" y2="557.5"/>
<line x1="55.18" y1="552.5" x2="55.18" y2="557.5"/>
<line x1="90.36" y1="552.5" x2="90.36" y2="557.5"/>
<line x1="125.54" y1="552.5" x2="125.54" y2="557.5"/>
<line x1="160.72" y1="552.5" x2="160.72" y2="557.5"/>
<line x1="195.9" y1="552.5" x2="195.9" y2="557.5"/>
<line x1="231.08" y1="552.5" x2="231.08" y2="557.5"/>
<line x1="266.26" y1="552.5" x2="266.26" y2="557.5"/>
<line x1="301.44" y1="552.5" x2="301.44" y2="557.5"/>
<line x1="336.62" y1="552.5" x2="336.62" y2="557.5"/>
<line x1="371.8" y1="552.5" x2="371.8" y2="557.5"/>
<line x1="406.98" y1="552.5" x2="406.98" y2="557.5"/>
<line x1="442.16" y1="552.5" x2="442.16" y2="557.5"/>
<line x1="477.34" y1="552.5" x2="477.34" y2="557.5"/>
<line x1="512.52" y1="552.5" x2="512.52" y2="557.5"/>
</g>
<g font-size="11.8" text-anchor="middle">
<text x="20" y="573">0</text>
<text x="55.18" y="573">2</text>
<text x="90.36" y="573">4</text>
<text x="125.54" y="573">6</text>
<text x="160.72" y="573">8</text>
<text x="195.9" y="573">10</text>
<text x="231.08" y="573">12</text>
<text x="266.26" y="573">14</text>
<text x="301.44" y="573">16</text>
<text x="336.62" y="573">18</text>
<text x="371.8" y="573">20</text>
<text x="406.98" y="573">22</text>
<text x="442.16" y="573">24</text>
<text x="477.34" y="573">26</text>
<text x="512.52" y="573">28</text>
</g>
<text x="265" y="595" font-size="13.3" text-anchor="middle">Months</text>
<g id="legend">
<rect x="50.6" y="608.8" width="429.4" height="79" fill="#fff" stroke="#222" stroke-width="1.1"/>
<g font-size="9.6">
<text x="54.2" y="619">Response:</text>
<text x="54.2" y="630">End of Treatment Status:</text>
<text x="54.2" y="662.5">Intra-subject dose escalation:</text>
<text x="54.2" y="674">Intra-subject dose reduction:</text>
<text x="54.2" y="684.5">Schedule change:</text>
<rect x="189.5" y="611.2" width="9" height="9" fill="#4fae32"/>
<text x="206" y="619">sCR</text>
<rect x="234.5" y="611.2" width="9" height="9" fill="#234f91"/>
<text x="250.5" y="619">CR</text>
<rect x="275.5" y="611.2" width="9" height="9" fill="#6db3f2"/>
<text x="291.5" y="619">VGPR</text>
<rect x="329.5" y="611.2" width="9" height="9" fill="#d966dd"/>
<text x="345.5" y="619">PR</text>
<rect x="369.5" y="611.2" width="9" height="9" fill="#a5f5e3"/>
<text x="385.5" y="619">PD</text>
<text x="201" y="630">D/C - PD</text>
<text x="262" y="630">D/C - AE</text>
<text x="322.5" y="630">D/C - Other</text>
<text x="214.5" y="646.7">Still being followed for response</text>
<text x="372" y="646.7">Death</text>
<text x="419.5" y="646.7">End of Study</text>
<text x="199.5" y="662.5">800</text>
<text x="201.5" y="674">135</text>
<text x="239.5" y="674">200</text>
<text x="201" y="684.5">Biweekly</text>
<text x="260.5" y="684.5">Weekly</text>
<text x="313.5" y="684.5">Monthly</text>
</g>
<path d="M191.3 623.4L194.9 627L191.3 630.6L187.7 627Z" fill="#f09a38"/>
<path d="M252.5 623.4L256.1 627L252.5 630.6L248.9 627Z" fill="#b32025"/>
<path d="M313 623.4L316.6 627L313 630.6L309.4 627Z" fill="#111"/>
<path d="M194 643.3H202.5M199.9 641L202.5 643.3L199.9 645.6" stroke="#ea2430" stroke-width="1.3" fill="none"/>
<path d="M362.50 639.20L363.63 642.45L367.07 642.52L364.33 644.59L365.32 647.88L362.50 645.92L359.68 647.88L360.67 644.59L357.93 642.52L361.37 642.45Z" fill="#000"/>
<path d="M407.6 641.1L413 646.5M407.6 646.5L413 641.1" stroke="#e8202a" stroke-width="1.9" fill="none"/>
<path d="M190 656.2L193.1 661.78L186.9 661.78Z" fill="#5a1a55" stroke="#5a1a55" stroke-width="0.9" stroke-linejoin="round"/>
<path d="M191.5 673.8L194.8 667.86L188.2 667.86Z" fill="#c4c92b"/>
<path d="M231 673.8L234.3 667.86L227.7 667.86Z" fill="#1f3a7a"/>
<circle cx="192" cy="681.7" r="2" fill="#fff" fill-opacity="0.3" stroke="#111" stroke-width="1.1"/>
<circle cx="251.5" cy="681.7" r="2" fill="#fff" fill-opacity="0.3" stroke="#e8262a" stroke-width="1.1"/>
<circle cx="304" cy="681.7" r="2" fill="#fff" fill-opacity="0.3" stroke="#1b2fa8" stroke-width="1.1"/>
</g>
<g font-size="6.6" fill="#111">
<text x="2" y="704.5" textLength="378" lengthAdjust="spacingAndGlyphs">AE, adverse event; CR, complete response; D/C, discontinued; PD, progressive disease; PR, partial response; QW, weekly;</text>
<text x="2" y="714" textLength="216" lengthAdjust="spacingAndGlyphs">sCR, stringent complete response; VGPR, very good partial response.</text>
</g>
</svg></body></html>
